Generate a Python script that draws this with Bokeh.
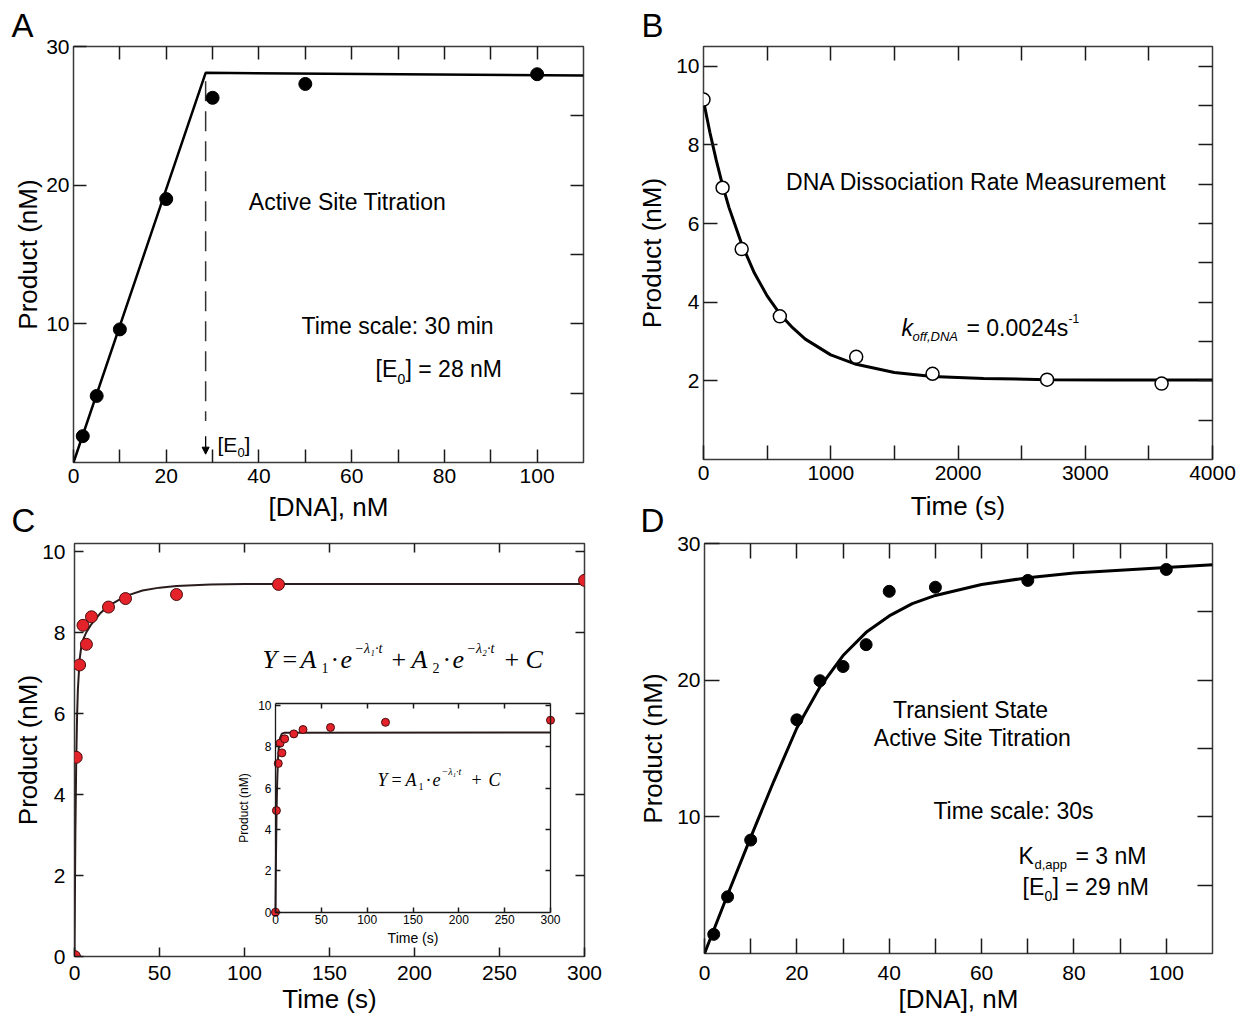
from bokeh.plotting import figure
from bokeh.layouts import row, column
from bokeh.models import Label, LinearAxis, FixedTicker, Range1d, Arrow, NormalHead, Title
from bokeh.embed import file_html
from bokeh.resources import INLINE

# ---------------- Panel A : active site titration ----------------
a_dna = [2, 5, 10, 20, 30, 50, 100]
a_product = [1.9, 4.8, 9.6, 19.0, 26.3, 27.3, 28.0]
a_fit_dna = [0, 28.5, 110]
a_fit_product = [0, 28.1, 27.9]
a_e0 = 28.5
a_xticks = [0, 20, 40, 60, 80, 100]
a_xminor = [10, 30, 50, 70, 90]
a_xtop = [10, 20, 30, 40, 50, 60, 70, 80, 90, 100]
a_yticks = [10, 20, 30]
a_yright = [5, 10, 15, 20, 25]

# ---------------- Panel B : DNA dissociation ----------------
b_time = [0, 150, 300, 600, 1200, 1800, 2700, 3600]
b_product = [9.15, 6.91, 5.35, 3.64, 2.61, 2.18, 2.03, 1.93]
b_fit_time = [0, 50, 100, 150, 200, 300, 400, 500, 600, 700, 800, 1000, 1200, 1500, 1800, 2200, 2700, 3200, 4000]
b_fit_product = [9.12, 8.32, 7.61, 6.97, 6.41, 5.48, 4.74, 4.16, 3.70, 3.35, 3.06, 2.66, 2.42, 2.21, 2.11, 2.06, 2.03, 2.02, 2.02]
b_xticks = [0, 1000, 2000, 3000, 4000]
b_xminor = [500, 1500, 2500, 3500]
b_xtop = [500, 1000, 1500, 2000, 2500, 3000, 3500]
b_yticks = [2, 4, 6, 8, 10]
b_yright = [1, 2, 3, 4, 5, 6, 7, 8, 9, 10]

# ---------------- Panel C : burst kinetics ----------------
c_time = [0, 1, 3, 5, 7, 10, 20, 30, 60, 120, 300]
c_product = [0.0, 4.92, 7.2, 8.18, 7.71, 8.39, 8.63, 8.84, 8.94, 9.19, 9.29]
c_fit2_time = [0, 0.5, 1, 1.5, 2, 3, 4, 5, 7, 10, 15, 20, 30, 40, 50, 60, 80, 100, 300]
c_fit2_product = [0, 2.97, 4.78, 5.90, 6.60, 7.33, 7.65, 7.82, 8.01, 8.21, 8.47, 8.66, 8.90, 9.04, 9.11, 9.15, 9.19, 9.20, 9.20]
c_fit1_time = [0, 0.5, 1, 1.5, 2, 3, 4, 5, 7, 10, 300]
c_fit1_product = [0, 2.57, 4.38, 5.66, 6.55, 7.64, 8.17, 8.44, 8.64, 8.69, 8.70]
c_xticks = [0, 50, 100, 150, 200, 250, 300]
c_xtop = [50, 100, 150, 200, 250]
c_yticks = [0, 2, 4, 6, 8, 10]
c_yright = [2, 4, 6, 8, 10]

# ---------------- Panel D : transient-state titration ----------------
d_dna = [2, 5, 10, 20, 25, 30, 35, 40, 50, 70, 100]
d_product = [1.4, 4.15, 8.3, 17.1, 19.96, 21.0, 22.6, 26.5, 26.8, 27.3, 28.1]
d_fit_dna = [0, 5, 10, 15, 20, 25, 30, 35, 40, 45, 50, 60, 70, 80, 90, 100, 110]
d_fit_product = [0, 4.3, 8.5, 12.6, 16.5, 19.5, 21.8, 23.5, 24.7, 25.6, 26.2, 27.0, 27.5, 27.85, 28.05, 28.25, 28.45]
d_xticks = [0, 20, 40, 60, 80, 100]
d_xminor = [10, 30, 50, 70, 90]
d_xtop = [10, 20, 30, 40, 50, 60, 70, 80, 90, 100]
d_yticks = [10, 20, 30]
d_yright = [5, 10, 15, 20, 25]

SANS = "Liberation Sans"
SERIF = "Liberation Serif"
INK = "#1a1a1a"
RED = "#e3222a"


class Geo:
    """Maps page pixel positions of annotations into a panel's data space."""
    def __init__(self, left, top, w, h, xr, yr):
        self.left, self.top, self.w, self.h, self.xr, self.yr = left, top, w, h, xr, yr

    def x(self, px):
        return self.xr[0] + (px - self.left) / self.w * (self.xr[1] - self.xr[0])

    def y(self, py):
        return self.yr[1] - (py - self.top) / self.h * (self.yr[1] - self.yr[0])


def make_fig(xr, yr, left, fw, right, top, fh, bottom):
    p = figure(x_range=Range1d(*xr), y_range=Range1d(*yr), frame_width=fw, frame_height=fh,
               min_border_left=left, min_border_right=right, min_border_top=top,
               min_border_bottom=bottom, output_backend="svg", toolbar_location=None,
               tools="", title=None)
    p.xgrid.visible = False
    p.ygrid.visible = False
    p.outline_line_color = "#3a3a3a"
    p.outline_line_width = 1.5
    p.background_fill_color = "white"
    p.border_fill_color = "white"
    return p


def style_ticks(ax, major, minor, length, size=21, standoff=4, line=False):
    ax.ticker = FixedTicker(ticks=major, minor_ticks=minor)
    ax.major_tick_in = length
    ax.major_tick_out = 0
    ax.minor_tick_in = length
    ax.minor_tick_out = 0
    ax.major_tick_line_color = INK
    ax.minor_tick_line_color = INK
    ax.major_tick_line_width = 1.5
    ax.minor_tick_line_width = 1.5
    ax.axis_line_color = INK if line else None
    ax.axis_line_width = 1.3
    ax.major_label_text_font = SANS
    ax.major_label_text_font_size = f"{size}px"
    ax.major_label_text_color = "black"
    ax.major_label_standoff = standoff
    ax.axis_label_text_font = SANS
    ax.axis_label_text_font_style = "normal"
    ax.axis_label_text_color = "black"


def frame_axes(p, xlab, xmaj, xmin, xtop, ylab, ymaj, ymin, yright, length,
               xstand, ystand, xlstand, ylstand):
    bx = p.xaxis[0]
    style_ticks(bx, xmaj, xmin, length, standoff=xstand)
    bx.axis_label = xlab
    bx.axis_label_text_font_size = "26px"
    bx.axis_label_standoff = xlstand
    ly = p.yaxis[0]
    style_ticks(ly, ymaj, ymin, length, standoff=ystand)
    ly.axis_label = ylab
    ly.axis_label_text_font_size = "26px"
    ly.axis_label_standoff = ylstand
    top = LinearAxis()
    style_ticks(top, [], xtop, length, standoff=0)
    p.add_layout(top, "above")
    rgt = LinearAxis()
    style_ticks(rgt, [], yright, length, standoff=0)
    p.add_layout(rgt, "right")


def letter(p, text, offset, standoff):
    p.add_layout(Title(text=text, align="left", offset=offset, standoff=standoff,
                       text_font=SANS, text_font_size="33px", text_font_style="normal",
                       text_color="black", vertical_align="bottom"), "above")


def note(p, g, px, py, text, size, align="left", baseline="middle", style="normal", font=SANS):
    p.add_layout(Label(x=g.x(px), y=g.y(py), text=text, text_font=font,
                       text_font_size=f"{size}px", text_font_style=style,
                       text_align=align, text_baseline=baseline, text_color="black"))


# ---------------- geometry (page pixels, page origin = canvas origin) ----------------
A_X, A_Y = (0, 110), (0, 30)
B_X, B_Y = (0, 4000), (0, 10.5)
C_X, C_Y = (0, 300), (0, 10.2)
D_X, D_Y = (0, 110), (0, 30)

ROW2_OVERLAP = 37
pA = make_fig(A_X, A_Y, 73, 510, 48, 46, 416, 68)
pB = make_fig(B_X, B_Y, 72, 509, 24, 46, 413, 71)
pC = make_fig(C_X, C_Y, 74, 510, 48, 50, 413, 66)
pD = make_fig(D_X, D_Y, 72, 508, 24, 50, 410, 69)
pC.border_fill_color = None
pD.border_fill_color = None

gA = Geo(73, 46, 510, 416, A_X, A_Y)
gB = Geo(703, 46, 509, 413, B_X, B_Y)
gC = Geo(74, 543, 510, 413, C_X, C_Y)
gD = Geo(704, 543, 508, 410, D_X, D_Y)

# ---------------- Panel A ----------------
frame_axes(pA, "[DNA], nM", a_xticks, a_xminor, a_xtop, "Product (nM)", a_yticks, [],
           a_yright, 13, 6, 4, 6, 0)
letter(pA, "A", -62, 6)
pA.line(a_fit_dna, a_fit_product, line_color="black", line_width=2.5)
pA.line([a_e0, a_e0], [27.5, 3.0], line_color="#333333", line_width=1.5, line_dash="20 10")
pA.add_layout(Arrow(end=NormalHead(size=7, fill_color="black", line_color="black"),
                    x_start=a_e0, y_start=1.9, x_end=a_e0, y_end=0.6,
                    line_color="black", line_width=1.3))
pA.scatter(a_dna, a_product, size=13, fill_color="black", line_color="black")
note(pA, gA, 347, 201, "Active Site Titration", 23, align="center")
note(pA, gA, 301, 325, "Time scale: 30 min", 23)
note(pA, gA, 375, 368, "[E", 23)
note(pA, gA, 397, 378, "0", 14)
note(pA, gA, 405, 368, "] = 28 nM", 23)
note(pA, gA, 217, 444, "[E", 21)
note(pA, gA, 237, 452, "0", 13)
note(pA, gA, 244, 444, "]", 21)

# ---------------- Panel B ----------------
frame_axes(pB, "Time (s)", b_xticks, b_xminor, b_xtop, "Product (nM)", b_yticks, [],
           b_yright, 14, 6, 4, 8, 6)
letter(pB, "B", -62, 6)
pB.line(b_fit_time, b_fit_product, line_color="black", line_width=3)
pB.scatter(b_time, b_product, size=13, fill_color="white", line_color="black", line_width=1.5)
note(pB, gB, 976, 181, "DNA Dissociation Rate Measurement", 23, align="center")
note(pB, gB, 901, 327, "k", 23, style="italic")
note(pB, gB, 912, 336, "off,DNA", 13, style="italic")
note(pB, gB, 966, 327, "= 0.0024s", 23)
note(pB, gB, 1068, 318, "-1", 12)

# ---------------- Panel C ----------------
frame_axes(pC, "Time (s)", c_xticks, [], c_xtop, "Product (nM)", c_yticks, [],
           c_yright, 9, 9, 9, 1, -4)
letter(pC, "C", -63, 10)
pC.line(c_fit2_time, c_fit2_product, line_color="#2a1c1c", line_width=2)
pC.scatter(c_time, c_product, size=12, fill_color=RED, line_color="#4a0d0d", line_width=1)

# inset: its own ranges, mapped onto a sub-box of panel C (page pixels 275..550 x 703..911.7)
ins_l, ins_r, ins_t, ins_b = 275, 550, 703, 911.7
ins_x, ins_y = (0, 300), (0, 10.1)
ix_pp = (ins_x[1] - ins_x[0]) / (ins_r - ins_l)
iy_pp = (ins_y[1] - ins_y[0]) / (ins_b - ins_t)
ix0 = ins_x[0] - (ins_l - gC.left) * ix_pp
iy0 = ins_y[0] - (gC.top + gC.h - ins_b) * iy_pp
pC.extra_x_ranges = {"ix": Range1d(ix0, ix0 + gC.w * ix_pp)}
pC.extra_y_ranges = {"iy": Range1d(iy0, iy0 + gC.h * iy_pp)}

ib = LinearAxis(x_range_name="ix", y_range_name="iy", fixed_location=ins_y[0], bounds=ins_x)
style_ticks(ib, c_xticks, [], 5, size=12, standoff=3, line=True)
ib.axis_label = "Time (s)"
ib.axis_label_text_font_size = "14px"
ib.axis_label_standoff = 2
pC.add_layout(ib, "below")
il = LinearAxis(x_range_name="ix", y_range_name="iy", fixed_location=ins_x[0], bounds=ins_y)
style_ticks(il, c_yticks, [], 5, size=12, standoff=4, line=True)
il.axis_label = "Product (nM)"
il.axis_label_text_font_size = "12px"
il.axis_label_standoff = 4
pC.add_layout(il, "left")
ir = LinearAxis(x_range_name="ix", y_range_name="iy", fixed_location=ins_x[1], bounds=ins_y)
style_ticks(ir, [], c_yticks[1:], 5, standoff=0, line=True)
pC.add_layout(ir, "right")
it = LinearAxis(x_range_name="ix", y_range_name="iy", fixed_location=ins_y[1], bounds=ins_x)
style_ticks(it, [], c_xtop, 5, standoff=0, line=True)
pC.add_layout(it, "above")
pC.line(c_fit1_time, c_fit1_product, line_color="#2a1c1c", line_width=2,
        x_range_name="ix", y_range_name="iy")
pC.scatter(c_time, c_product, size=8, fill_color=RED, line_color="#4a0d0d", line_width=1,
           x_range_name="ix", y_range_name="iy")

main_eq = [("Y", 262, 659, 26, "italic"), ("=", 282, 659, 26, "normal"),
           ("A", 300, 659, 26, "italic"), ("1", 321, 667, 14, "normal"),
           ("·", 330, 659, 26, "normal"), ("e", 340, 659, 26, "italic"),
           ("−λ₁·t", 354, 648, 14, "italic"), ("+", 391, 659, 26, "normal"),
           ("A", 411, 659, 26, "italic"), ("2", 432, 667, 14, "normal"),
           ("·", 442, 659, 26, "normal"), ("e", 452, 659, 26, "italic"),
           ("−λ₂·t", 466, 648, 14, "italic"), ("+", 504, 659, 26, "normal"),
           ("C", 525, 659, 26, "italic")]
inset_eq = [("Y", 377, 779, 18, "italic"), ("=", 391, 779, 18, "normal"),
            ("A", 405, 779, 18, "italic"), ("1", 418, 786, 10, "normal"),
            ("·", 425, 779, 18, "normal"), ("e", 432, 779, 18, "italic"),
            ("−λ₁·t", 441, 771, 10, "italic"), ("+", 471, 779, 18, "normal"),
            ("C", 488, 779, 18, "italic")]
for t, px, py, sz, st in main_eq + inset_eq:
    note(pC, gC, px, py, t, sz, baseline="alphabetic", style=st, font=SERIF)

# ---------------- Panel D ----------------
frame_axes(pD, "[DNA], nM", d_xticks, d_xminor, d_xtop, "Product (nM)", d_yticks, [],
           d_yright, 15, 12, 4, 1, 6)
letter(pD, "D", -64, 10)
pD.line(d_fit_dna, d_fit_product, line_color="black", line_width=3)
pD.scatter(d_dna, d_product, size=12, fill_color="black", line_color="black")
note(pD, gD, 970, 709, "Transient State", 23, align="center")
note(pD, gD, 972, 737, "Active Site Titration", 23, align="center")
note(pD, gD, 1013, 810, "Time scale: 30s", 23, align="center")
note(pD, gD, 1018, 855, "K", 23)
note(pD, gD, 1034, 864, "d,app", 13)
note(pD, gD, 1075, 855, "= 3 nM", 23)
note(pD, gD, 1022, 886, "[E", 23)
note(pD, gD, 1044, 895, "0", 14)
note(pD, gD, 1052, 886, "] = 29 nM", 23)

layout = column(row(pA, pB), row(pC, pD, margin=(-ROW2_OVERLAP, 0, 0, 0)))
open("out.html", "w").write(file_html(layout, INLINE))
